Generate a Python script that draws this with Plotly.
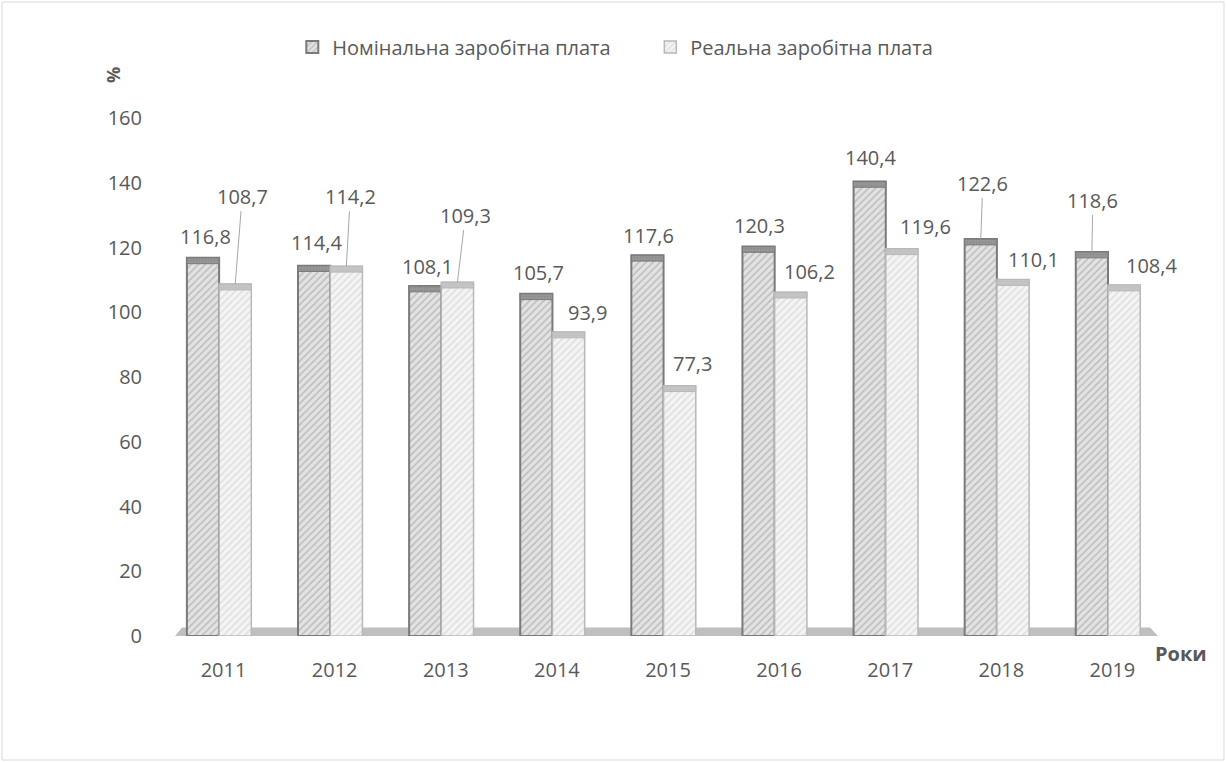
import plotly.graph_objects as go

years = ["2011", "2012", "2013", "2014", "2015", "2016", "2017", "2018", "2019"]
nominal = [116.8, 114.4, 108.1, 105.7, 117.6, 120.3, 140.4, 122.6, 118.6]
real = [108.7, 114.2, 109.3, 93.9, 77.3, 106.2, 119.6, 110.1, 108.4]
y_ticks = [0, 20, 40, 60, 80, 100, 120, 140, 160]

series_names = ["Номінальна заробітна плата", "Реальна заробітна плата"]

# label placement relative to the top of each bar (px); True = leader line
nom_label_pos = [(2, -21, False), (2, -23, False), (2, -20, False), (2, -21, False),
                 (1, -20, False), (1, -21, False), (1, -24, False), (2, -56, True),
                 (1, -52, True)]
real_label_pos = [(7, -88, True), (4, -70, True), (8, -67, True), (19, -20, False),
                  (13, -22, False), (19, -21, False), (24, -22, False), (21, -20, False),
                  (27, -20, False)]

W, H = 1227, 762
L, R, T, B = 168, 59, 118, 126
plot_w = W - L - R
plot_h = H - T - B
cat_px = plot_w / len(years)

BAR_W = 0.29
NOM_OFF = -0.33
REAL_OFF = -0.04
CAP = 1.8

TXT = "#595959"
FONT = "Open Sans, Noto Sans, sans-serif"
FS = 20


def fmt(v):
    return f"{v:.1f}".replace(".", ",")


fig = go.Figure()

styles = [
    (nominal, NOM_OFF, "#e2e2e2", "#969696", "#7a7a7a", "#999999", 2),
    (real, REAL_OFF, "#f4f4f4", "#c8c8c8", "#b8b8b8", "#c6c6c6", 1.5),
]
for name, (vals, off, bg, fg, edge, cap_col, lw) in zip(series_names, styles):
    fig.add_trace(go.Bar(
        x=years, y=vals, name=name,
        offset=off, width=BAR_W,
        marker=dict(
            color=bg,
            line=dict(color=edge, width=lw),
            pattern=dict(shape="/", fgcolor=fg, bgcolor=bg, size=5, solidity=0.3),
        ),
        hoverinfo="skip",
    ))
    # top face of the pseudo-3D bar, drawn inside the bar height
    fig.add_trace(go.Bar(
        x=years, y=[CAP] * len(years), base=[v - CAP for v in vals],
        offset=off, width=BAR_W,
        marker=dict(color=cap_col, line=dict(color=edge, width=1),
                    pattern=dict(shape=".", fgcolor=edge, bgcolor=cap_col, size=3, solidity=0.4)),
        showlegend=False, hoverinfo="skip",
    ))

annotations = []
for vals, off, pos in [(nominal, NOM_OFF, nom_label_pos), (real, REAL_OFF, real_label_pos)]:
    bar_dx = (off + BAR_W / 2) * cat_px
    for i, (v, (dx, dy, leader)) in enumerate(zip(vals, pos)):
        a = dict(x=i, y=v, text=fmt(v), font=dict(family=FONT, size=FS, color=TXT))
        if leader:
            a.update(showarrow=True, ax=dx, ay=dy, xshift=bar_dx, arrowhead=0,
                     arrowwidth=1, arrowcolor="#a6a6a6", standoff=0)
        else:
            a.update(showarrow=False, xshift=bar_dx + dx, yshift=-dy)
        annotations.append(a)

annotations.append(dict(text="<b>Роки</b>", xref="paper", yref="paper",
                        x=(1181 - L) / plot_w, y=(H - B - 653) / plot_h,
                        xanchor="center", yanchor="middle",
                        showarrow=False, font=dict(family=FONT, size=20, color=TXT)))
annotations.append(dict(text="<b>%</b>", xref="paper", yref="paper",
                        x=(113 - L) / plot_w, y=(H - B - 75) / plot_h, textangle=-90,
                        xanchor="center", yanchor="middle",
                        showarrow=False, font=dict(family=FONT, size=18, color=TXT)))

shapes = [
    # floor
    dict(type="path", xref="paper", yref="y", layer="below",
         path="M 0.007,0 L 0.990,0 L 0.982,2.6 L 0.014,2.6 Z",
         fillcolor="#bfbfbf", line=dict(width=0)),
    # chart border
    dict(type="rect", xref="paper", yref="paper",
         x0=(2 - L) / plot_w, x1=(1224 - L) / plot_w,
         y0=(H - B - 760) / plot_h, y1=(H - B - 2) / plot_h,
         line=dict(color="#d9d9d9", width=1), fillcolor="rgba(0,0,0,0)"),
]

fig.update_layout(
    width=W, height=H,
    margin=dict(l=L, r=R, t=T, b=B),
    paper_bgcolor="white", plot_bgcolor="white",
    barmode="overlay",
    font=dict(family=FONT, size=FS, color=TXT),
    legend=dict(orientation="h", xref="container", yref="container",
                x=0.53, xanchor="center", y=1 - 47 / H, yanchor="middle",
                font=dict(family=FONT, size=FS, color=TXT),
                itemwidth=30, entrywidth=313, tracegroupgap=0),
    annotations=annotations,
    shapes=shapes,
)
fig.update_xaxes(type="category", range=[-0.5, len(years) - 0.5], showline=False,
                 showgrid=False, ticks="", ticklabelstandoff=20,
                 tickfont=dict(family=FONT, size=FS, color=TXT))
fig.update_yaxes(range=[0, 160], tickvals=y_ticks, showgrid=False, showline=False,
                 zeroline=False, ticks="", ticklabelstandoff=25,
                 tickfont=dict(family=FONT, size=FS, color=TXT))

fig.write_html("out.html", post_script="document.body.style.margin='0';",
               config={"displayModeBar": False})
